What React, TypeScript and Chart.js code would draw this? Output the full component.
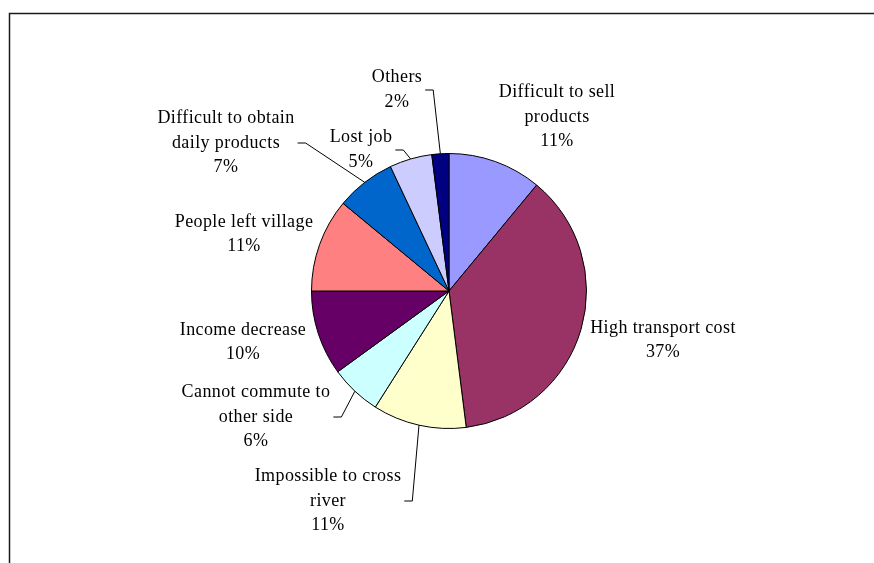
import React, { useEffect, useRef } from "react";
import { Chart, registerables } from "chart.js";

Chart.register(...registerables);

// ---- data ----
const CATEGORIES: string[][] = [
  ["Difficult to sell", "products"],
  ["High transport cost"],
  ["Impossible to cross", "river"],
  ["Cannot commute to", "other side"],
  ["Income decrease"],
  ["People left village"],
  ["Difficult to obtain", "daily products"],
  ["Lost job"],
  ["Others"],
];
const VALUES: number[] = [11, 37, 11, 6, 10, 11, 7, 5, 2];
const COLORS: string[] = [
  "#9999FF",
  "#993366",
  "#FFFFCC",
  "#CCFFFF",
  "#660066",
  "#FF8080",
  "#0066CC",
  "#CCCCFF",
  "#000080",
];
// label block centre offsets from pie centre (layout)
const LABEL_OFFSETS: [number, number][] = [
  [108, -174],
  [214, 49.5],
  [-121, 210],
  [-193, 126],
  [-206, 51.5],
  [-205, -56.5],
  [-223, -148],
  [-88, -141],
  [-52, -201],
];
const HAS_LEADER: boolean[] = [false, false, true, true, false, false, true, true, true];

const W = 874;
const H = 563;
const CX = 449;
const CY = 291;
const R = 138;
const FONT = '18px "Liberation Serif", "Times New Roman", serif';
const LINE_H = 24.5;

const labelPlugin = {
  id: "excelLabels",
  beforeDraw(chart: any) {
    const ctx = chart.ctx;
    ctx.save();
    ctx.fillStyle = "#ffffff";
    ctx.fillRect(0, 0, W, H);
    ctx.strokeStyle = "#1a1a1a";
    ctx.lineWidth = 1.5;
    ctx.beginPath();
    ctx.moveTo(W + 2, 13.5);
    ctx.lineTo(9.5, 13.5);
    ctx.lineTo(9.5, H + 2);
    ctx.stroke();
    ctx.restore();
  },
  afterDraw(chart: any) {
    const ctx = chart.ctx;
    const meta = chart.getDatasetMeta(0);
    const total = VALUES.reduce((a, b) => a + b, 0);
    ctx.save();
    ctx.font = FONT;
    try {
      (ctx as any).letterSpacing = "0.4px";
    } catch (e) {}
    ctx.fillStyle = "#000";
    ctx.textAlign = "center";
    ctx.textBaseline = "middle";
    meta.data.forEach((arc: any, i: number) => {
      const { x, y, startAngle, endAngle, outerRadius } = arc.getProps(
        ["x", "y", "startAngle", "endAngle", "outerRadius"],
        true
      );
      const lines = [...CATEGORIES[i], Math.round((VALUES[i] / total) * 100) + "%"];
      const bx = x + LABEL_OFFSETS[i][0];
      const by = y + LABEL_OFFSETS[i][1];
      const top = by - ((lines.length - 1) * LINE_H) / 2;
      let maxW = 0;
      lines.forEach((ln, k) => {
        ctx.fillText(ln, bx, top + k * LINE_H);
        maxW = Math.max(maxW, ctx.measureText(ln).width);
      });
      if (HAS_LEADER[i]) {
        const mid = (startAngle + endAngle) / 2;
        const px = x + Math.cos(mid) * outerRadius;
        const py = y + Math.sin(mid) * outerRadius;
        const sx = bx + maxW / 2 + 3;
        ctx.strokeStyle = "#000";
        ctx.lineWidth = 1;
        ctx.beginPath();
        ctx.moveTo(sx, by);
        ctx.lineTo(sx + 8, by);
        ctx.lineTo(px, py);
        ctx.stroke();
      }
    });
    ctx.restore();
  },
};

export default function App() {
  const ref = useRef<HTMLCanvasElement | null>(null);
  useEffect(() => {
    if (!ref.current) return;
    const chart = new Chart(ref.current, {
      type: "pie",
      data: {
        labels: CATEGORIES.map((l) => l.join(" ")),
        datasets: [
          {
            data: VALUES,
            backgroundColor: COLORS,
            borderColor: "#000000",
            borderWidth: 1,
            hoverOffset: 0,
            offset: 0,
          },
        ],
      },
      options: {
        responsive: false,
        animation: false,
        devicePixelRatio: 1,
        layout: {
          padding: {
            left: CX - R,
            right: W - (CX + R),
            top: CY - R,
            bottom: H - (CY + R),
          },
        },
        plugins: {
          legend: { display: false },
          tooltip: { enabled: false },
          title: { display: false },
        },
        events: [],
      },
      plugins: [labelPlugin],
    });
    return () => chart.destroy();
  }, []);
  return (
    <div style={{ position: "absolute", left: 0, top: 0, width: W, height: H }}>
      <canvas ref={ref} width={W} height={H} style={{ display: "block" }} />
    </div>
  );
}
